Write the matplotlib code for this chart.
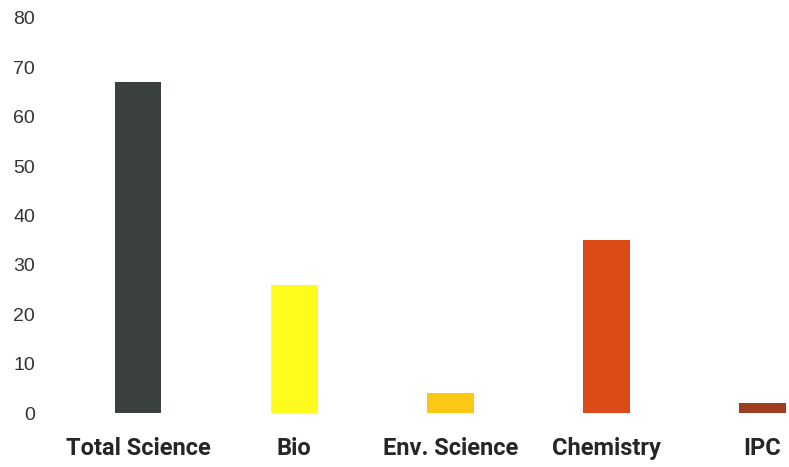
import matplotlib
matplotlib.use("Agg")
import matplotlib.pyplot as plt

categories = ["Total Science", "Bio", "Env. Science", "Chemistry", "IPC"]
values = [67, 26, 4, 35, 2]
colors = ["#3b423e", "#fefc1c", "#fcc816", "#dc4b17", "#9c3d20"]
yticks = [0, 10, 20, 30, 40, 50, 60, 70, 80]

fig = plt.figure(figsize=(7.89, 4.67), dpi=100)
ax = fig.add_axes([60 / 789, 1 - 413 / 467, 729 / 789, (413 - 18) / 467])

ax.bar(range(len(categories)), values, width=0.3, color=colors)

ax.set_xlim(-0.5, 4.17)
ax.set_ylim(0, 80)
ax.set_yticks(yticks)
ax.set_yticklabels([str(t) for t in yticks], fontsize=14,
                   family="Liberation Sans", color="#333333")
ax.set_xticks(range(len(categories)))
ax.set_xticklabels(categories, fontsize=17, family="Roboto",
                   fontweight="bold", color="#262626")
ax.tick_params(axis="y", length=0, pad=18)
ax.tick_params(axis="x", length=0, pad=17)

for s in ax.spines.values():
    s.set_visible(False)

fig.savefig("out.png", dpi=100)
